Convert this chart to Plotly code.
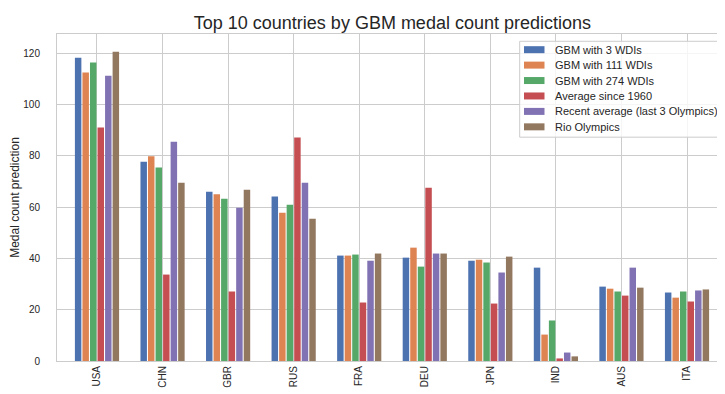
import plotly.graph_objects as go

countries = ["USA", "CHN", "GBR", "RUS", "FRA", "DEU", "JPN", "IND", "AUS", "ITA"]
series_names = ["GBM with 3 WDIs", "GBM with 111 WDIs", "GBM with 274 WDIs",
                "Average since 1960", "Recent average (last 3 Olympics)", "Rio Olympics"]
gbm_3 = [118.2, 77.7, 66.0, 64.1, 41.1, 40.3, 39.1, 36.4, 29.0, 26.7]
gbm_111 = [112.5, 79.8, 65.0, 57.8, 41.1, 44.2, 39.5, 10.3, 28.2, 24.7]
gbm_274 = [116.4, 75.4, 63.3, 60.9, 41.5, 36.8, 38.4, 15.8, 27.1, 27.1]
avg_1960 = [91.0, 33.7, 27.1, 87.1, 22.8, 67.6, 22.4, 1.0, 25.5, 23.2]
recent_avg = [111.2, 85.5, 59.8, 69.5, 39.1, 41.9, 34.5, 3.3, 36.4, 27.5]
rio = [120.6, 69.5, 66.8, 55.5, 41.9, 41.9, 40.7, 1.8, 28.6, 27.9]
colors = ["#4C72B0", "#DD8452", "#55A868", "#C44E52", "#8172B3", "#937860"]

all_series = [gbm_3, gbm_111, gbm_274, avg_1960, recent_avg, rio]

font_family = "Liberation Sans, Arial, sans-serif"
text_color = "#262626"
grid_color = "#cccccc"

W, H = 725, 394
L, R, T, B = 49, 719, 26, 353.4


def px_x(p):
    return (p - L) / (R - L)


def px_y(p):
    return (B - p) / (B - T)


fig = go.Figure()
for name, vals, col in zip(series_names, all_series, colors):
    fig.add_trace(go.Bar(x=countries, y=vals, name=name, showlegend=False,
                         marker=dict(color=col, line=dict(width=0))))

# custom legend (compact, matplotlib-like)
shapes = [dict(type="rect", xref="paper", yref="paper",
               x0=px_x(511.7), x1=px_x(712.7), y0=px_y(129.3), y1=px_y(33.3),
               fillcolor="rgba(255,255,255,0.8)", line=dict(color=grid_color, width=1),
               layer="above")]
annotations = []
row_y0, row_step = 41.7, 15.45
for i, (name, col) in enumerate(zip(series_names, colors)):
    cy = row_y0 + i * row_step
    shapes.append(dict(type="rect", xref="paper", yref="paper",
                       x0=px_x(516), x1=px_x(536.5), y0=px_y(cy + 3.5), y1=px_y(cy - 3.5),
                       fillcolor=col, line=dict(width=0), layer="above"))
    annotations.append(dict(text=name, xref="paper", yref="paper",
                            x=px_x(545), y=px_y(cy), xanchor="left", yanchor="middle",
                            showarrow=False, font=dict(size=11, color=text_color)))

fig.update_layout(
    width=W, height=H,
    barmode="group", bargap=0.31, bargroupgap=0.14,
    plot_bgcolor="white", paper_bgcolor="white",
    margin=dict(l=L, r=W - R, t=T, b=H - B, autoexpand=False),
    font=dict(family=font_family, color=text_color, size=11),
    title=dict(text="Top 10 countries by GBM medal count predictions",
               x=384.4 / W, xanchor="center",
               y=1 - 15 / H, yanchor="middle",
               font=dict(size=18, color=text_color)),
    showlegend=False,
    shapes=shapes,
    annotations=annotations,
)
fig.update_xaxes(
    type="category", range=[-0.61, 9.61],
    showgrid=True, gridcolor=grid_color, gridwidth=1,
    showline=True, linecolor=grid_color, linewidth=1, mirror=True,
    tickangle=-90, ticks="",
    tickfont=dict(size=10, color=text_color),
)
fig.update_yaxes(
    range=[0, 127.5], tickvals=[0, 20, 40, 60, 80, 100, 120],
    showgrid=True, gridcolor=grid_color, gridwidth=1, zeroline=False,
    showline=True, linecolor=grid_color, linewidth=1, mirror=True,
    ticks="outside", ticklen=14, tickcolor="rgba(0,0,0,0)",
    tickfont=dict(size=10, color=text_color),
    title=dict(text="Medal count prediction", font=dict(size=12, color=text_color),
               standoff=2),
)

fig.write_html("out.html")
